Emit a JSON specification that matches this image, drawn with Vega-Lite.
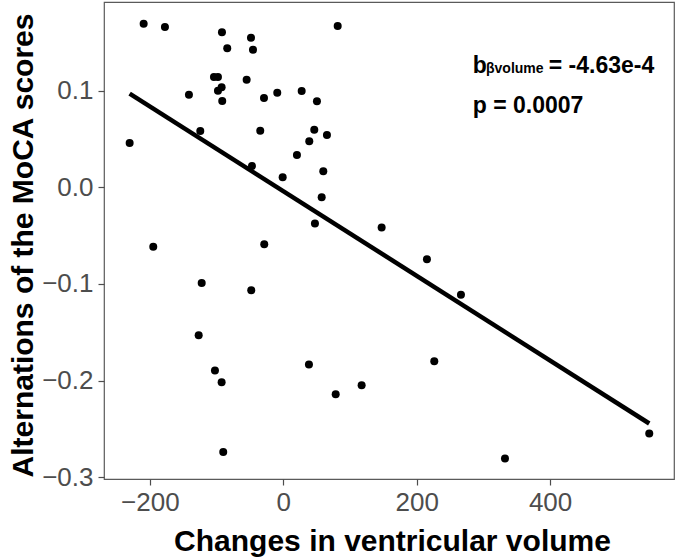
{
  "$schema": "https://vega.github.io/schema/vega-lite/v6.json",
  "width": 570,
  "height": 477,
  "autosize": {"type": "none"},
  "padding": {"left": 104, "top": 2, "right": 4, "bottom": 79},
  "background": "white",
  "config": {
    "view": {"stroke": "#5a5a5a", "strokeWidth": 1.2},
    "axis": {"grid": false, "domain": false, "labelFont": "Liberation Sans", "titleFont": "Liberation Sans", "labelColor": "#4D4D4D", "labelFontSize": 26, "tickColor": "#4D4D4D", "tickSize": 6, "tickWidth": 1.2, "titleColor": "black", "titleFontSize": 30, "titleFontWeight": "bold"}
  },
  "datasets": {
    "pts": [
      {"vol": -209.3, "moca": 0.1695},
      {"vol": -177.4, "moca": 0.1661},
      {"vol": -91.9, "moca": 0.1606},
      {"vol": -48.4, "moca": 0.155},
      {"vol": -84.0, "moca": 0.144},
      {"vol": -45.4, "moca": 0.1426},
      {"vol": 81.6, "moca": 0.1672},
      {"vol": -103.9, "moca": 0.1143},
      {"vol": -97.9, "moca": 0.1143},
      {"vol": -54.9, "moca": 0.1115},
      {"vol": -92.4, "moca": 0.1036},
      {"vol": -97.9, "moca": 0.1001},
      {"vol": -141.4, "moca": 0.096},
      {"vol": -91.5, "moca": 0.0894},
      {"vol": -28.9, "moca": 0.0925},
      {"vol": -9.0, "moca": 0.098},
      {"vol": 27.6, "moca": 0.0998},
      {"vol": 50.5, "moca": 0.0891},
      {"vol": -124.4, "moca": 0.0583},
      {"vol": -34.5, "moca": 0.0587},
      {"vol": 46.5, "moca": 0.0597},
      {"vol": 65.5, "moca": 0.0542},
      {"vol": -230.3, "moca": 0.0459},
      {"vol": 39.0, "moca": 0.0477},
      {"vol": 20.5, "moca": 0.0335},
      {"vol": -46.9, "moca": 0.0221},
      {"vol": -0.9, "moca": 0.0104},
      {"vol": 60.0, "moca": 0.0166},
      {"vol": 57.6, "moca": -0.0101},
      {"vol": 47.5, "moca": -0.0373},
      {"vol": 147.5, "moca": -0.0415},
      {"vol": -194.9, "moca": -0.0616},
      {"vol": -28.5, "moca": -0.0588},
      {"vol": -122.3, "moca": -0.0989},
      {"vol": -48.0, "moca": -0.1064},
      {"vol": -126.8, "moca": -0.1531},
      {"vol": -102.4, "moca": -0.1896},
      {"vol": -92.4, "moca": -0.2018},
      {"vol": 38.5, "moca": -0.1834},
      {"vol": 78.6, "moca": -0.2142},
      {"vol": 117.5, "moca": -0.2049},
      {"vol": -90.0, "moca": -0.274},
      {"vol": 215.4, "moca": -0.0743},
      {"vol": 266.4, "moca": -0.1113},
      {"vol": 226.4, "moca": -0.18},
      {"vol": 332.4, "moca": -0.2808},
      {"vol": 548.7, "moca": -0.2549}
    ],
    "big": [
      {"vol": 284, "moca": 0.1184, "label": "b"},
      {"vol": 398, "moca": 0.1184, "label": "= -4.63e-4"},
      {"vol": 284, "moca": 0.077, "label": "p = 0.0007"}
    ],
    "small": [
      {"vol": 304, "moca": 0.1184, "label": "βvolume"}
    ]
  },
  "layer": [
    {
      "data": {"name": "pts"},
      "mark": {"type": "point", "filled": true, "color": "black", "size": 64, "opacity": 1},
      "encoding": {
        "x": {"field": "vol", "type": "quantitative", "scale": {"domain": [-268.75, 585.8], "nice": false, "zero": false}, "axis": {"values": [-200, 0, 200, 400], "format": "d", "title": "Changes in ventricular volume", "titleBaseline": "alphabetic", "titleY": 71, "titleX": 288, "labelPadding": 4}},
        "y": {"field": "moca", "type": "quantitative", "scale": {"domain": [-0.302, 0.192], "nice": false, "zero": false}, "axis": {"values": [-0.3, -0.2, -0.1, 0, 0.1], "format": ".1f", "title": "Alternations of the MoCA scores", "titleBaseline": "alphabetic", "titleX": -72, "titleY": 243, "labelPadding": 5}}
      }
    },
    {
      "data": {"name": "pts"},
      "transform": [{"regression": "moca", "on": "vol"}],
      "mark": {"type": "line", "color": "black", "strokeWidth": 4.5},
      "encoding": {
        "x": {"field": "vol", "type": "quantitative"},
        "y": {"field": "moca", "type": "quantitative"}
      }
    },
    {
      "data": {"name": "big"},
      "mark": {"type": "text", "font": "Liberation Sans", "fontWeight": "bold", "fontSize": 23, "align": "left", "baseline": "alphabetic", "color": "black"},
      "encoding": {
        "x": {"field": "vol", "type": "quantitative"},
        "y": {"field": "moca", "type": "quantitative"},
        "text": {"field": "label"}
      }
    },
    {
      "data": {"name": "small"},
      "mark": {"type": "text", "font": "Liberation Sans", "fontWeight": "bold", "fontSize": 14, "align": "left", "baseline": "alphabetic", "color": "black"},
      "encoding": {
        "x": {"field": "vol", "type": "quantitative"},
        "y": {"field": "moca", "type": "quantitative"},
        "text": {"field": "label"}
      }
    }
  ]
}
